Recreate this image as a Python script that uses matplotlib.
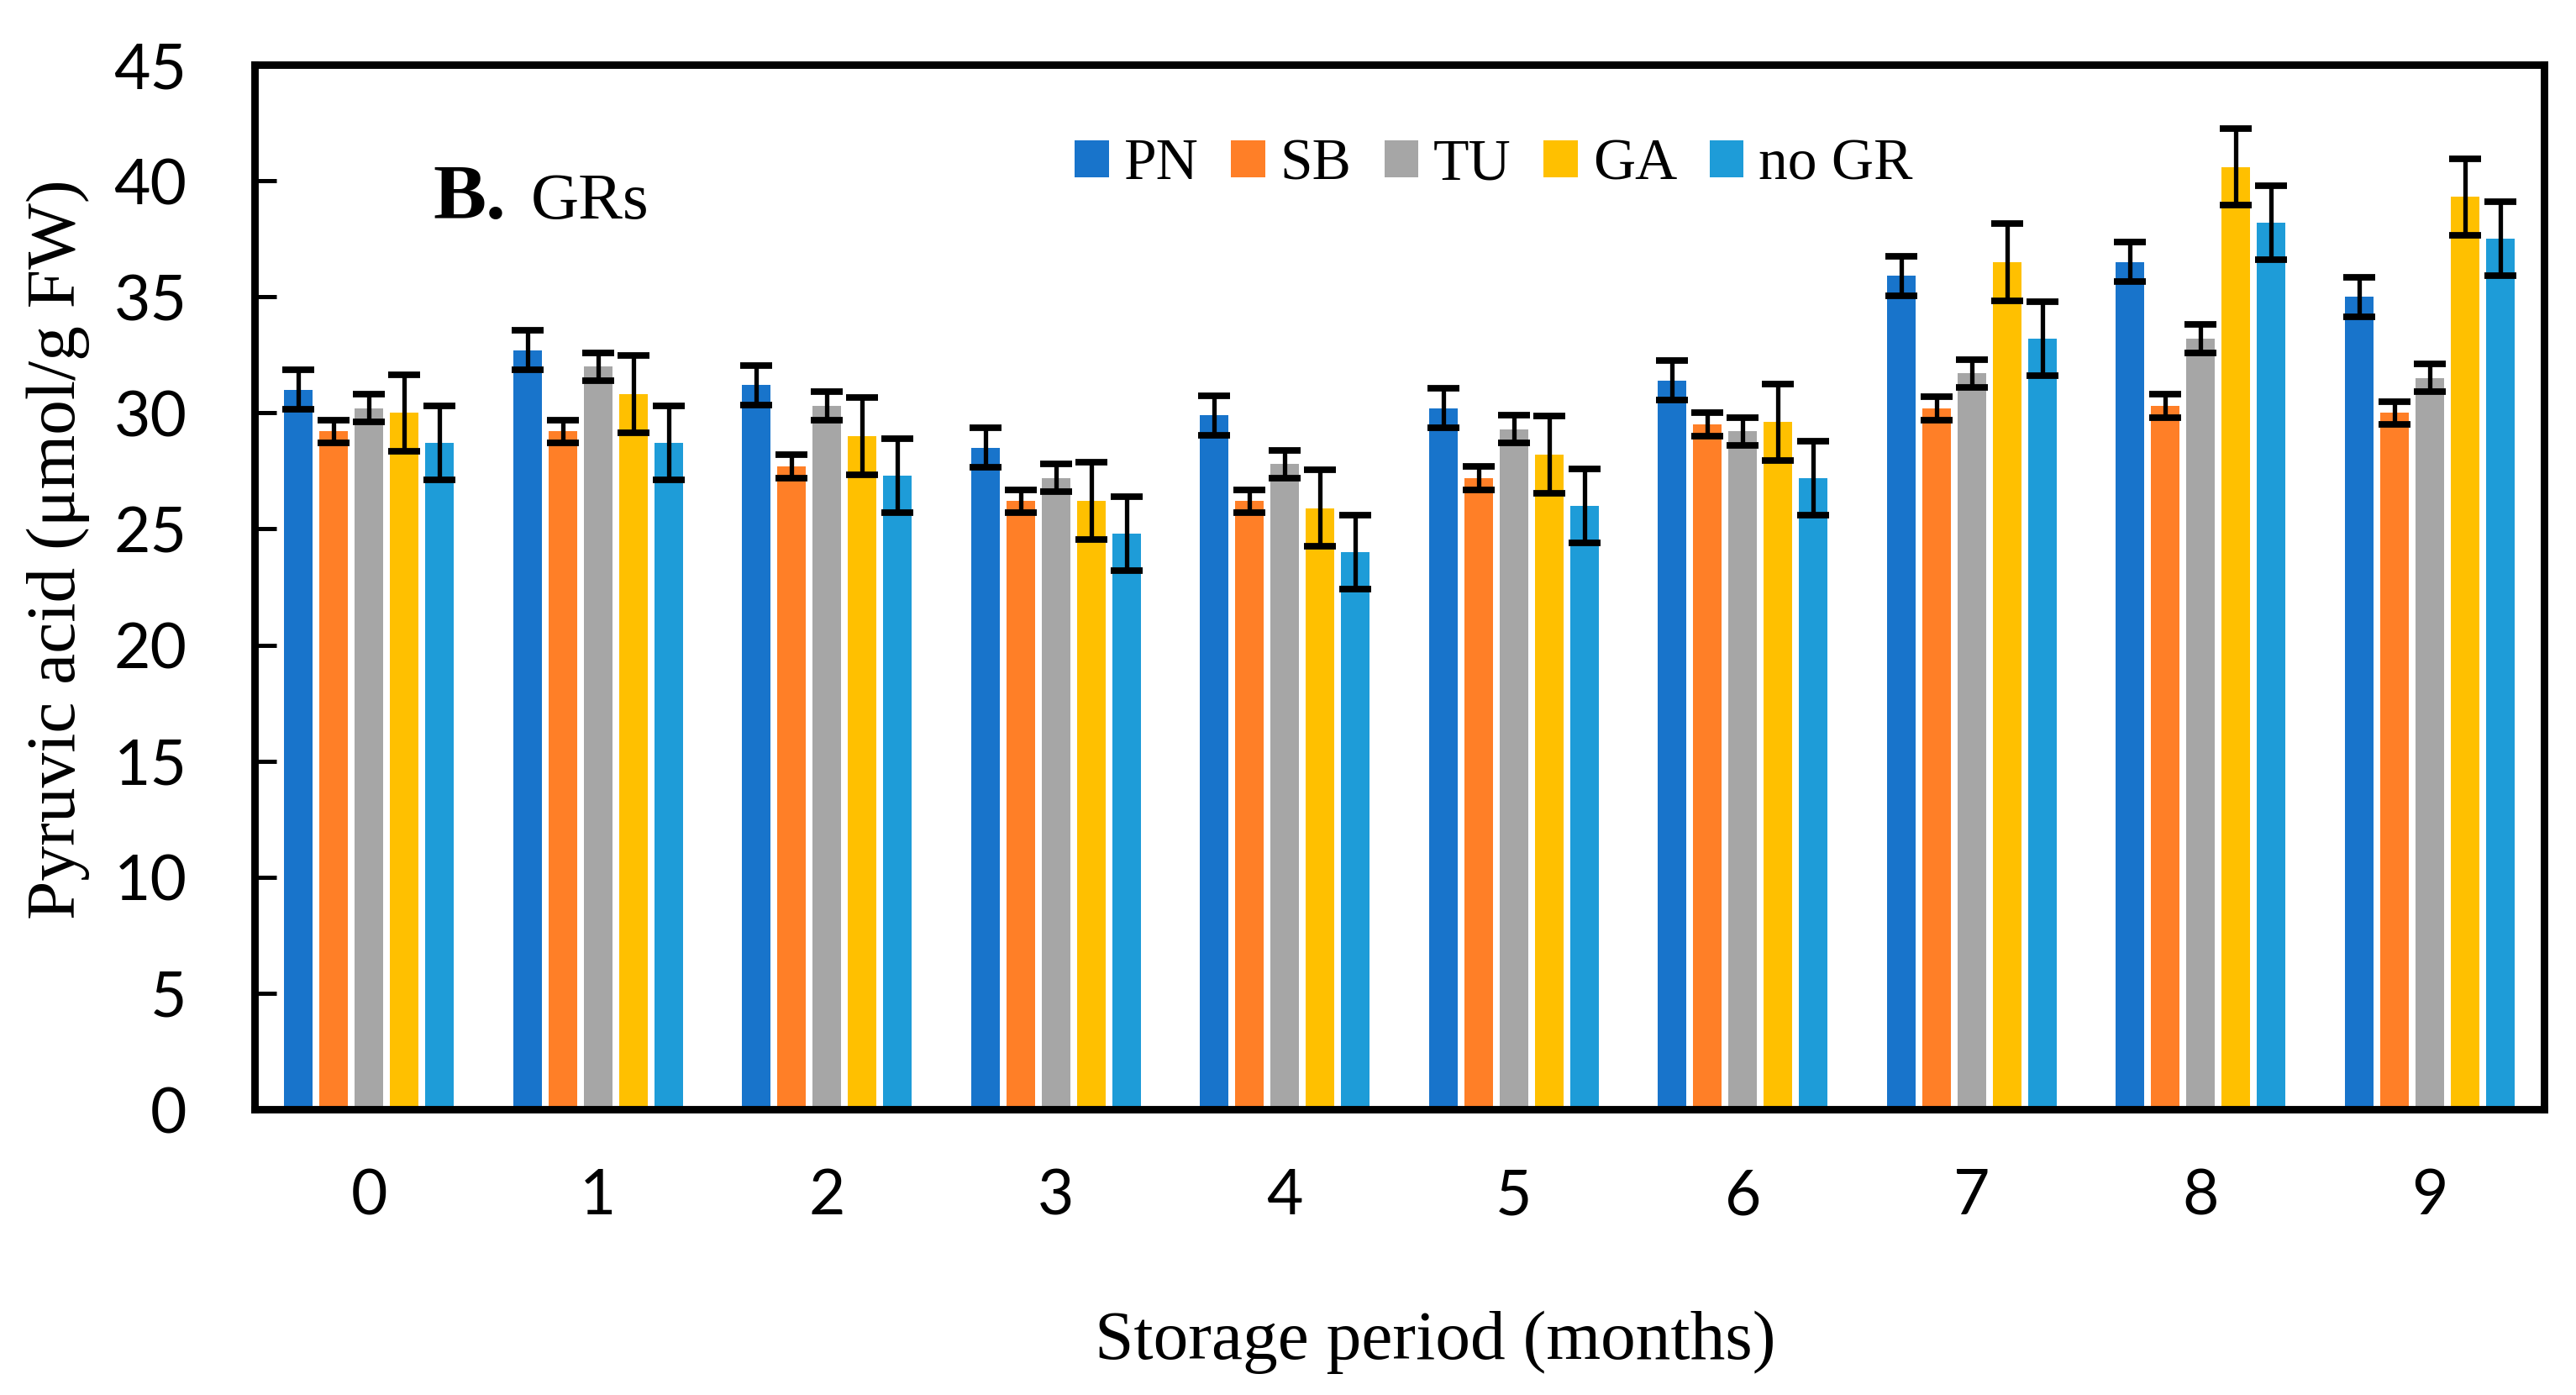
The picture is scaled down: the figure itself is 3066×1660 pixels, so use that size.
import numpy as np
import matplotlib
matplotlib.use("Agg")
import matplotlib.pyplot as plt

# storage months and treatments
months = ['0', '1', '2', '3', '4', '5', '6', '7', '8', '9']
series = ['PN', 'SB', 'TU', 'GA', 'no GR']
colors = ['#1874CB', '#FF7F27', '#A6A6A6', '#FFC000', '#1E9CD8']

# pyruvic acid (umol/g FW)
pn = [31.0, 32.7, 31.2, 28.5, 29.9, 30.2, 31.4, 35.9, 36.5, 35.0]
sb = [29.2, 29.2, 27.7, 26.2, 26.2, 27.2, 29.5, 30.2, 30.3, 30.0]
tu = [30.2, 32.0, 30.3, 27.2, 27.8, 29.3, 29.2, 31.7, 33.2, 31.5]
ga = [30.0, 30.8, 29.0, 26.2, 25.9, 28.2, 29.6, 36.5, 40.6, 39.3]
nogr = [28.7, 28.7, 27.3, 24.8, 24.0, 26.0, 27.2, 33.2, 38.2, 37.5]

# error bar half-lengths
pn_err = [0.85, 0.85, 0.85, 0.85, 0.85, 0.85, 0.85, 0.85, 0.85, 0.85]
sb_err = [0.5, 0.5, 0.5, 0.5, 0.5, 0.5, 0.5, 0.5, 0.5, 0.5]
tu_err = [0.6, 0.6, 0.6, 0.6, 0.6, 0.6, 0.6, 0.6, 0.6, 0.6]
ga_err = [1.66, 1.66, 1.66, 1.66, 1.66, 1.66, 1.66, 1.66, 1.66, 1.66]
nogr_err = [1.59, 1.59, 1.59, 1.59, 1.59, 1.59, 1.59, 1.59, 1.59, 1.59]

values = [pn, sb, tu, ga, nogr]
errors = [pn_err, sb_err, tu_err, ga_err, nogr_err]

serif = 'Liberation Serif'

fig = plt.figure(figsize=(15.33, 8.3), dpi=200)
ax = fig.add_axes([0.0988, 0.2048, 0.8888, 0.7488])

x = np.arange(len(months))
step = 0.154
width = 0.125
for i in range(len(series)):
    ax.bar(x + (i - 2) * step, values[i], width, color=colors[i],
           label=series[i], zorder=2)
    ax.errorbar(x + (i - 2) * step, values[i], yerr=errors[i], fmt='none',
                ecolor='black', elinewidth=1.9, capsize=7, capthick=2.8,
                zorder=3)

ax.set_xlim(-0.5, 9.5)
ax.set_ylim(0, 45)
ax.set_yticks(np.arange(0, 46, 5))
ax.set_xticks(x)
ax.set_xticklabels(months)

for s in ax.spines.values():
    s.set_linewidth(3.2)
    s.set_color('black')

ax.tick_params(axis='y', direction='in', length=9.5, width=1.8, pad=29,
               labelsize=27)
ax.tick_params(axis='x', length=0, pad=25, labelsize=27)
for lab in ax.get_xticklabels() + ax.get_yticklabels():
    lab.set_fontfamily('Lato')

ax.set_ylabel('Pyruvic acid (\u03bcmol/g FW)', fontsize=30, family=serif)
ax.yaxis.set_label_coords(-0.072, 0.536)
ax.set_xlabel('Storage period (months)', fontsize=30, family=serif)
ax.xaxis.set_label_coords(0.5157, -0.193)

ax.text(0.0778, 0.853, 'B.', transform=ax.transAxes, fontsize=34,
        fontweight='bold', family=serif, va='baseline', ha='left')
ax.text(0.1205, 0.853, 'GRs', transform=ax.transAxes, fontsize=28.5,
        family=serif, va='baseline', ha='left')

ax.legend(loc='center', bbox_to_anchor=(0.5413, 0.904), ncol=5,
          frameon=False, prop={'family': serif, 'size': 25},
          handlelength=0.58, handleheight=0.6, handletextpad=0.26,
          columnspacing=0.56, borderpad=0)

fig.savefig('out.png', dpi=200)
